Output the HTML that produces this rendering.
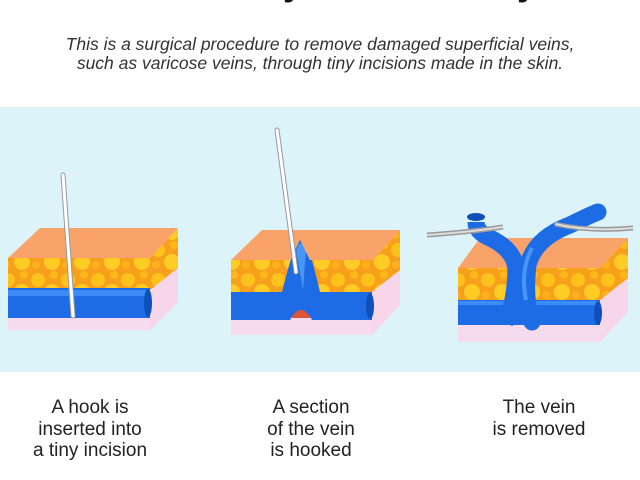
<!DOCTYPE html>
<html><head><meta charset="utf-8"><style>
html,body{margin:0;padding:0;width:640px;height:480px;overflow:hidden;background:#fff;font-family:"Liberation Sans",sans-serif}
.t{position:absolute;left:0;width:640px;text-align:center;top:-38px;font-weight:bold;font-size:36px;color:#111;white-space:nowrap}
.sub{position:absolute;left:0;width:640px;text-align:center;top:35px;font-style:italic;font-size:17.5px;line-height:19px;color:#333}
.band{position:absolute;left:0;top:107px;width:640px;height:265px;background:#dcf3f9}
.lab{position:absolute;top:397px;width:200px;text-align:center;font-size:19px;line-height:21.5px;color:#222}
svg{position:absolute;left:0;top:0}
</style></head><body>
<div class="t">Ambulatory Phlebectomy</div>
<div class="sub">This is a surgical procedure to remove damaged superficial veins,<br>such as varicose veins, through tiny incisions made in the skin.</div>
<div class="band"></div>
<svg width="640" height="480" viewBox="0 0 640 480">
<defs>
<pattern id="fat" width="30" height="30" patternUnits="userSpaceOnUse">
<rect width="30" height="30" fill="#f7a01c"/>
<circle cx="8" cy="10" r="7" fill="#ffc21a"/><circle cx="22" cy="22" r="8" fill="#ffcb25"/><circle cx="24" cy="5" r="4" fill="#ffb81a"/><circle cx="6" cy="25" r="4" fill="#ffb01a"/>
</pattern>
</defs>
<!-- block 1 -->
<g>
<polygon points="150,258 178,228 178,302 150,330" fill="#f7d6ea"/>
<polygon points="150,258 178,228 178,268 150,290" fill="url(#fat)"/>
<rect x="8" y="258" width="142" height="32" fill="url(#fat)"/>
<rect x="8" y="316" width="142" height="14" fill="#f6dbee"/>
<rect x="8" y="288" width="142" height="30" fill="#1d6ce6"/>
<rect x="8" y="290" width="142" height="6" fill="#3d8bf5"/>
<ellipse cx="148" cy="303" rx="4" ry="14" fill="#0f4fb8"/>
<polygon points="8,258 150,258 178,228 40,228" fill="#f9a36a"/>
<line x1="63" y1="175" x2="73" y2="316" stroke="#999" stroke-width="5" stroke-linecap="round"/>
<line x1="63" y1="175" x2="73" y2="316" stroke="#fff" stroke-width="3" stroke-linecap="round"/>
</g>
<!-- block 2 -->
<g>
<polygon points="372,260 400,230 400,305 372,335" fill="#f7d6ea"/>
<polygon points="372,260 400,230 400,270 372,292" fill="url(#fat)"/>
<rect x="231" y="260" width="141" height="32" fill="url(#fat)"/>
<rect x="231" y="318" width="141" height="17" fill="#f6dbee"/>
<polygon points="281,292 321,292 310,318 292,318" fill="#e0553a"/>
<path d="M231,292 L282,292 Q295,240 301,236 Q308,240 320,292 L372,292 L372,320 L312,320 Q301,300 290,320 L231,320 Z" fill="#1d6ce6"/>
<path d="M296,250 Q301,236 306,250 L303,290 Z" fill="#4a96f7"/>
<ellipse cx="370" cy="306" rx="4" ry="13" fill="#0f4fb8"/>
<polygon points="231,260 290,260 300,240 310,260 372,260 400,230 262,230" fill="#f9a36a"/>
<line x1="277" y1="130" x2="296" y2="272" stroke="#999" stroke-width="5" stroke-linecap="round"/>
<line x1="277" y1="130" x2="296" y2="272" stroke="#fff" stroke-width="3" stroke-linecap="round"/>
</g>
<!-- block 3 -->
<g>
<polygon points="600,268 628,238 628,312 600,342" fill="#f7d6ea"/>
<polygon points="600,268 628,238 628,278 600,300" fill="url(#fat)"/>
<rect x="458" y="268" width="142" height="33" fill="url(#fat)"/>
<rect x="458" y="325" width="142" height="17" fill="#f6dbee"/>
<polygon points="458,268 600,268 628,238 480,238" fill="#f9a36a"/>
<rect x="458" y="300" width="142" height="25" fill="#1d6ce6"/>
<path d="M458,303 L600,303" stroke="#3d8bf5" stroke-width="4"/>
<path d="M505,322 Q515,305 516,270 Q515,250 490,238 Q476,232 476,222" stroke="#1d6ce6" stroke-width="17" fill="none"/>
<path d="M532,322 Q524,300 528,265 Q535,238 570,225 Q590,215 598,212" stroke="#1d6ce6" stroke-width="17" fill="none" stroke-linecap="round"/>
<path d="M526,300 Q520,270 532,248" stroke="#4a96f7" stroke-width="4" fill="none"/>
<ellipse cx="476" cy="217" rx="9" ry="4" fill="#0f4fb8"/>
<ellipse cx="598" cy="313" rx="4" ry="12" fill="#0f4fb8"/>
<path d="M427,235 Q470,232 503,227" stroke="#999" stroke-width="5" fill="none"/>
<path d="M427,235 Q470,232 503,227" stroke="#ddd" stroke-width="2" fill="none"/>
<path d="M555,224 Q590,232 633,228" stroke="#999" stroke-width="5" fill="none"/>
<path d="M555,224 Q590,232 633,228" stroke="#ddd" stroke-width="2" fill="none"/>
</g>
</svg>
<div class="lab" style="left:-10px">A hook is<br>inserted into<br>a tiny incision</div>
<div class="lab" style="left:211px">A section<br>of the vein<br>is hooked</div>
<div class="lab" style="left:439px">The vein<br>is removed</div>
</body></html>
